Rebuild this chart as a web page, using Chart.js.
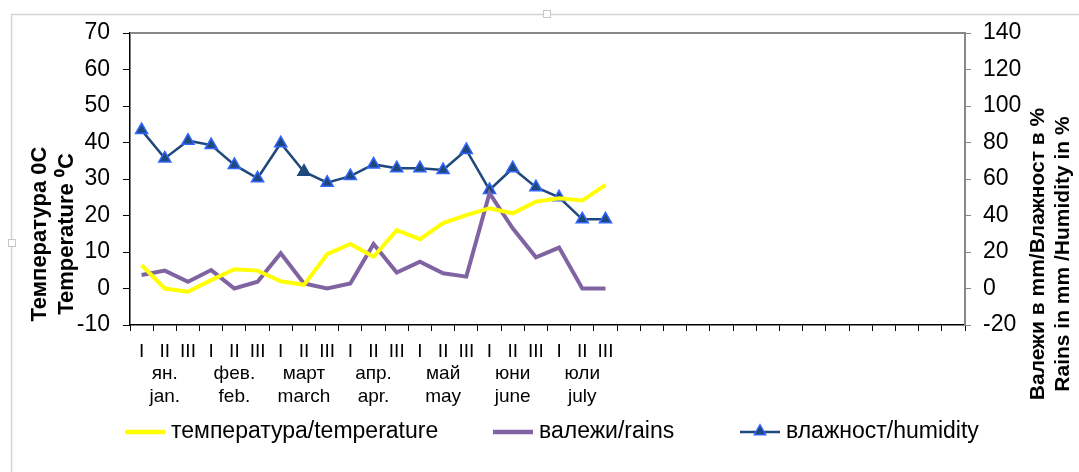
<!DOCTYPE html>
<html>
<head>
<meta charset="utf-8">
<script src="https://cdn.jsdelivr.net/npm/chart.js@4/dist/chart.umd.min.js"></script>
<style>
  html, body { margin: 0; padding: 0; background: #fff; }
  #wrap { width: 1079px; height: 472px; }
</style>
</head>
<body>
<div id="wrap"><canvas id="chart" width="1079" height="472"></canvas></div>
<script>
// === Daten ===
const decades = ['I', 'II', 'III'];
const monthsBg = ['ян.', 'фев.', 'март', 'апр.', 'май', 'юни', 'юли'];
const monthsEn = ['jan.', 'feb.', 'march', 'apr.', 'may', 'june', 'july'];
const categoryCount = 36;

const temperature = [6.4, 0, -0.9, 2.3, 5.3, 4.9, 2, 1, 9.4, 12.2, 8.7,
  16, 13.5, 17.9, 20.1, 22, 20.6, 23.8, 24.7, 24.1, 28.4];
const rains = [7.4, 9.8, 3.7, 10.1, 0, 3.7, 19.3, 2.8, 0, 2.8, 24.4,
  8.7, 14.7, 8.3, 6.5, 52.2, 33, 17.1, 22.4, 0, 0];
const humidity = [86.8, 71.3, 81, 78.6, 67.7, 60.4, 79.6, 64, 58, 61.6, 68,
  65.9, 65.9, 64.9, 75.9, 54, 65.9, 55.5, 50, 37.9, 37.9];

const leftTicks = { min: -10, max: 70, step: 10 };
const rightTicks = { min: -20, max: 140, step: 20 };

const FONT = '"Liberation Sans", Arial, sans-serif';

// Kategorien: I / II (+ Monat) / III
const labels = [];
for (let i = 0; i < categoryCount; i++) {
  const m = Math.floor(i / 3), d = i % 3;
  if (m >= monthsBg.length) { labels.push(''); continue; }
  labels.push(d === 1 ? [decades[d], monthsBg[m], monthsEn[m]] : [decades[d]]);
}

const markerBorders = humidity.map((v, i) => i === 7 ? '#1F497D' : '#3366FF');

function drawTriangle(ctx, x, y, r, fill, stroke) {
  ctx.fillStyle = fill; ctx.strokeStyle = stroke; ctx.lineWidth = 1.3;
  ctx.beginPath();
  ctx.moveTo(x, y - r); ctx.lineTo(x + r * 0.9, y + r * 0.6); ctx.lineTo(x - r * 0.9, y + r * 0.6);
  ctx.closePath(); ctx.fill(); ctx.stroke();
}

// Titel, Rahmen, obere Linie, Legende
const legendX = [125, 493, 740];
const extras = {
  id: 'extras',
  beforeDraw(chart) {
    const ctx = chart.ctx;
    ctx.save();
    ctx.strokeStyle = '#d4d4d4'; ctx.lineWidth = 1.5;
    ctx.beginPath(); ctx.moveTo(11.5, 472); ctx.lineTo(11.5, 14.5); ctx.lineTo(1079, 14.5); ctx.stroke();
    ctx.fillStyle = '#fff'; ctx.strokeStyle = '#c8c8c8'; ctx.lineWidth = 1;
    ctx.fillRect(543.5, 10.5, 7, 7); ctx.strokeRect(543.5, 10.5, 7, 7);
    ctx.fillRect(8.5, 239.5, 7, 7); ctx.strokeRect(8.5, 239.5, 7, 7);
    ctx.restore();
  },
  afterDraw(chart) {
    const ctx = chart.ctx;
    const a = chart.chartArea;
    ctx.save();
    ctx.strokeStyle = '#888'; ctx.lineWidth = 2;
    ctx.beginPath(); ctx.moveTo(a.left, a.top); ctx.lineTo(a.right, a.top); ctx.stroke();

    ctx.fillStyle = '#000';
    ctx.font = 'bold 22px ' + FONT;
    ctx.textAlign = 'center'; ctx.textBaseline = 'middle';
    ctx.translate(40, 234); ctx.rotate(-Math.PI / 2);
    ctx.fillText('Температура 0C', 0, 0);
    ctx.fillText('Temperature ⁰C', 0, 27);
    ctx.restore();

    ctx.save();
    ctx.fillStyle = '#000';
    ctx.font = 'bold 21px ' + FONT;
    ctx.textAlign = 'center'; ctx.textBaseline = 'middle';
    ctx.translate(1038, 254); ctx.rotate(-Math.PI / 2);
    ctx.fillText('Валежи в mm/Влажност в %', 0, 0);
    ctx.fillText('Rains in mm /Humidity in %', 0, 25);
    ctx.restore();

    // Legende
    ctx.save();
    ctx.font = '23px ' + FONT;
    ctx.textBaseline = 'middle'; ctx.textAlign = 'left';
    chart.data.datasets.forEach((ds, i) => {
      const x = legendX[i], y = 432;
      ctx.strokeStyle = ds.borderColor;
      ctx.lineWidth = i === 2 ? 2.5 : 4.5;
      ctx.beginPath(); ctx.moveTo(x, y); ctx.lineTo(x + 40, y); ctx.stroke();
      if (i === 2) drawTriangle(ctx, x + 20, y - 1, 6.5, '#1F497D', '#3366FF');
      ctx.fillStyle = '#000';
      ctx.fillText(ds.label, x + 46, y);
    });
    ctx.restore();
  }
};

new Chart(document.getElementById('chart'), {
  type: 'line',
  data: {
    labels: labels,
    datasets: [
      {
        label: 'температура/temperature',
        data: temperature,
        yAxisID: 'y',
        borderColor: '#FFFF00',
        borderWidth: 4,
        pointRadius: 0,
        tension: 0
      },
      {
        label: 'валежи/rains',
        data: rains,
        yAxisID: 'y1',
        borderColor: '#8064A2',
        borderWidth: 4,
        pointRadius: 0,
        tension: 0
      },
      {
        label: 'влажност/humidity',
        data: humidity,
        yAxisID: 'y1',
        borderColor: '#1F497D',
        borderWidth: 2.5,
        pointStyle: 'triangle',
        pointRadius: 7,
        pointBackgroundColor: '#1F497D',
        pointBorderColor: markerBorders,
        pointBorderWidth: 1.5,
        tension: 0
      }
    ]
  },
  options: {
    responsive: false,
    animation: false,
    layout: { padding: { top: 33, bottom: 61, left: 0, right: 0 } },
    plugins: {
      tooltip: { enabled: false },
      legend: { display: false }
    },
    scales: {
      x: {
        offset: true,
        afterFit(s) { s.height = 86; },
        grid: { offset: true, drawOnChartArea: false, tickLength: 6, color: '#000' },
        border: { color: '#000', width: 1.5 },
        ticks: {
          autoSkip: false, maxRotation: 0, minRotation: 0, padding: 9,
          color: '#000',
          font: { family: FONT, size: 19, lineHeight: 1.2 }
        }
      },
      y: {
        position: 'left',
        min: leftTicks.min, max: leftTicks.max,
        afterFit(s) { s.width = 130; },
        grid: { drawOnChartArea: false, tickLength: 7, color: '#000' },
        border: { color: '#000', width: 1.5 },
        ticks: { stepSize: leftTicks.step, padding: 13, color: '#000', font: { family: FONT, size: 23 } }
      },
      y1: {
        position: 'right',
        min: rightTicks.min, max: rightTicks.max,
        afterFit(s) { s.width = 114; },
        grid: { drawOnChartArea: false, tickLength: 6, color: '#888' },
        border: { color: '#888', width: 2 },
        ticks: { stepSize: rightTicks.step, padding: 12, color: '#000', font: { family: FONT, size: 23 } }
      }
    }
  },
  plugins: [extras]
});
</script>
</body>
</html>
